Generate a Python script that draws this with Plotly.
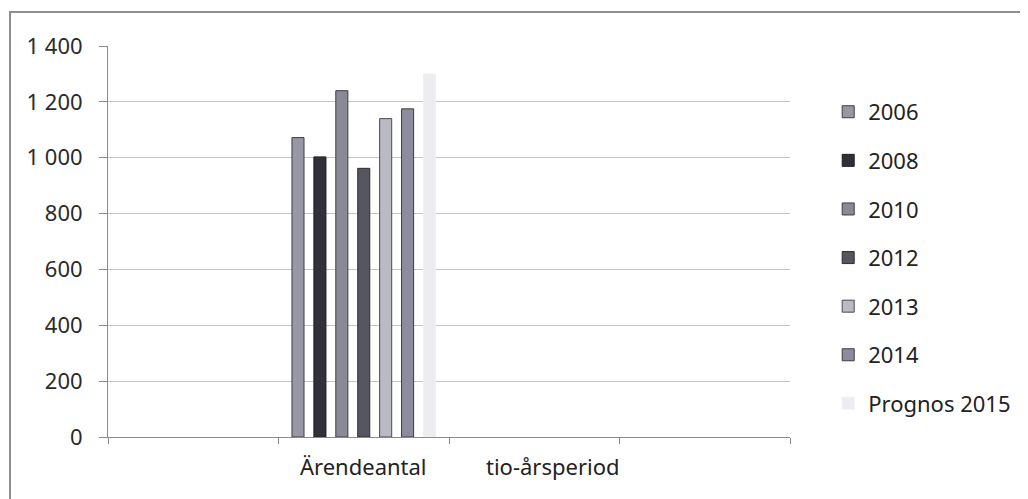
import plotly.graph_objects as go

# categories on the x axis (blank ones kept unique)
categories = [" ", "Ärendeantal", "tio-årsperiod", "  "]

series_names = ["2006", "2008", "2010", "2012", "2013", "2014", "Prognos 2015"]
series_values = [1072, 1003, 1240, 962, 1140, 1175, 1300]
series_colors = ["#9898a4", "#303038", "#8a8a96", "#56565e", "#babac4", "#8c8c9e", "#ececf1"]
line_colors = ["#3c3c44", "#1e1e22", "#3c3c44", "#2c2c32", "#4a4a52", "#3c3c44", "#f0f0f3"]

y_ticks = [0, 200, 400, 600, 800, 1000, 1200, 1400]

fig = go.Figure()

for i, name in enumerate(series_names):
    fig.add_trace(go.Bar(
        x = [categories[1]],
        y = [series_values[i]],
        name = name,
        legendgroup = name,
        marker = dict(color = series_colors[i], line = dict(color = line_colors[i], width = 1)),
    ))

fig.update_layout(
    width = 1020,
    height = 491,
    margin = dict(l = 100, r = 238, t = 38, b = 62),
    paper_bgcolor = "white",
    plot_bgcolor = "white",
    separators = ", ",
    font = dict(family = "Noto Sans, sans-serif", size = 22, color = "#2a2a2a"),
    barmode = "group",
    bargap = 0.1,
    bargroupgap = 0.45,
    showlegend = True,
    legend = dict(
        x = 1.056, y = 0.885, xanchor = "left", yanchor = "top",
        font = dict(size = 22, color = "#222"),
        tracegroupgap = 17,
        bgcolor = "rgba(0,0,0,0)",
    ),
)

fig.update_xaxes(
    type = "category",
    categoryorder = "array",
    categoryarray = categories,
    range = [-0.5, 3.5],
    tickson = "boundaries",
    ticks = "outside",
    ticklen = 6,
    tickcolor = "#8a8a8a",
    showline = True,
    linecolor = "#8a8a8a",
    showgrid = False,
    showticklabels = False,
)

fig.update_yaxes(
    range = [0, 1400],
    tickvals = y_ticks,
    tickformat = ",d",
    ticks = "outside",
    ticklen = 8,
    tickcolor = "#8a8a8a",
    ticklabelstandoff = 12,
    showline = True,
    linecolor = "#8a8a8a",
    showgrid = True,
    gridcolor = "#c4c4c4",
    zeroline = False,
    tickfont = dict(size = 22, color = "#2a2a2a"),
)

# category labels, the second one sits a little right of its slot
label_offsets = [0, 0, 0.11, 0]
for i, cat in enumerate(categories):
    if cat.strip():
        fig.add_annotation(
            x = i + label_offsets[i], xref = "x",
            y = 0, yref = "paper", yanchor = "middle", yshift = -29,
            text = cat, showarrow = False,
            font = dict(size = 22, color = "#222"),
        )

# outer chart frame
fig.add_shape(
    type = "rect", xref = "paper", yref = "paper",
    x0 = -0.1437, x1 = 1.4, y0 = -0.3, y1 = 1.087,
    line = dict(color = "#8e8e8e", width = 2),
)

fig.write_html("out.html")
